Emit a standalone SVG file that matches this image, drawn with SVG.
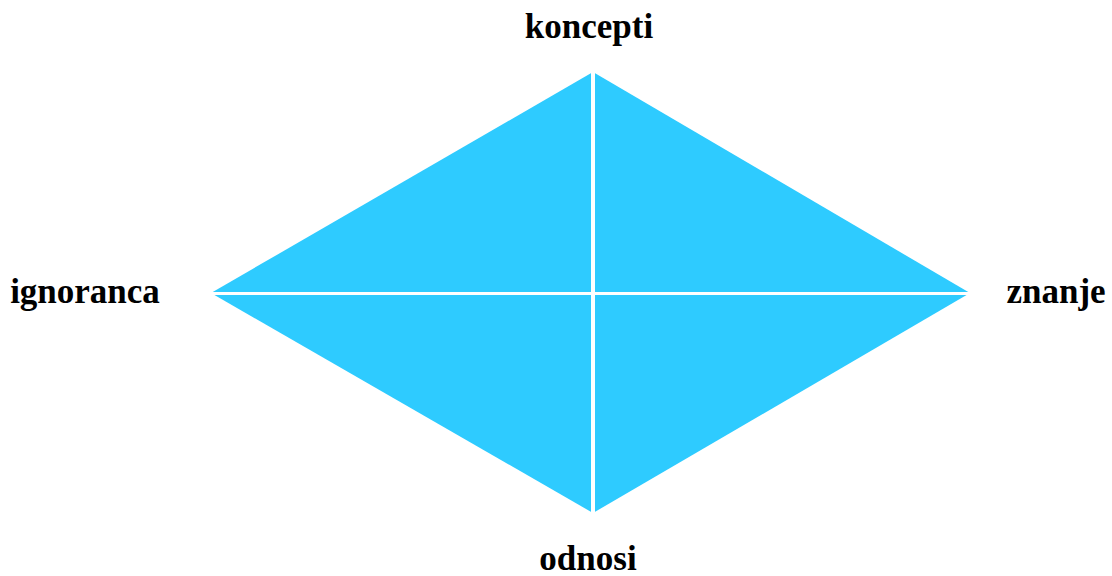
<svg xmlns="http://www.w3.org/2000/svg" width="1112" height="576" viewBox="0 0 1112 576">
<style>
.lbl{font-family:"Liberation Serif","Times New Roman",serif;font-weight:bold;font-size:35px;fill:#000}
.tri{fill:#2ECBFF}
.sep{stroke:#fff;stroke-width:4;fill:none}
</style>
<rect width="1112" height="576" fill="#fff"/>
<g id="diamond">
<polygon class="tri" points="211,293 593,72 593,293"/>
<polygon class="tri" points="593,72 970,293 593,293"/>
<polygon class="tri" points="211,293 593,293 593,513"/>
<polygon class="tri" points="593,293 970,293 593,513"/>
</g>
<g id="connectors">
<line class="sep" x1="593" y1="60" x2="593" y2="525"/>
<line class="sep" x1="200" y1="293.5" x2="985" y2="293.5" style="stroke-width:3"/>
</g>
<g id="koncepti"><text class="lbl" x="589" y="38" text-anchor="middle">koncepti</text></g>
<g id="ignoranca"><text class="lbl" x="85" y="303" text-anchor="middle">ignoranca</text></g>
<g id="znanje"><text class="lbl" x="1056" y="303" text-anchor="middle">znanje</text></g>
<g id="odnosi"><text class="lbl" x="588" y="570" text-anchor="middle">odnosi</text></g>
</svg>
